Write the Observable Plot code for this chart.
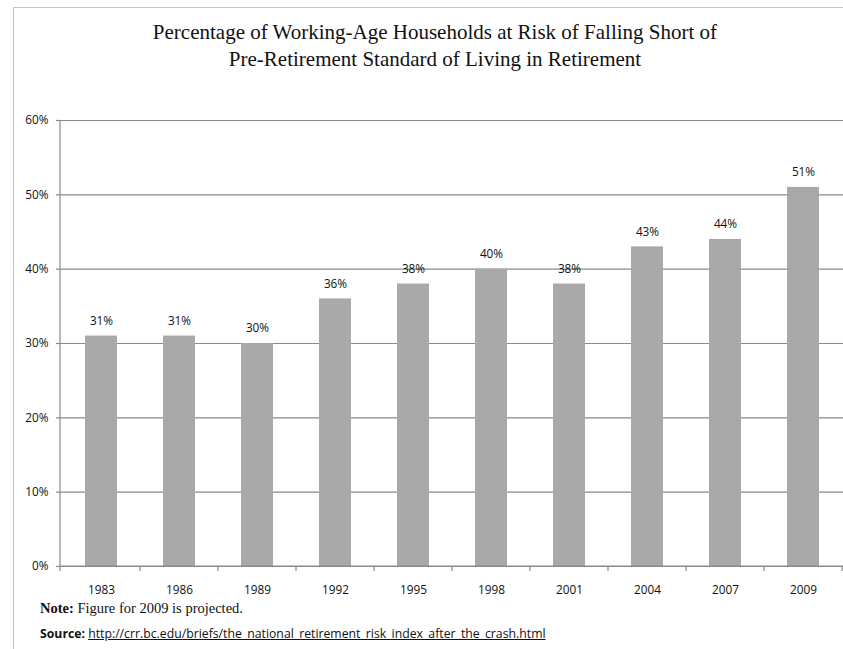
<!DOCTYPE html>
<html>
<head>
<meta charset="utf-8">
<script src="https://cdn.jsdelivr.net/npm/d3@7"></script>
<script src="https://cdn.jsdelivr.net/npm/@observablehq/plot@0.6"></script>
<style>
  html, body { margin: 0; padding: 0; background: #fff; overflow: hidden; }
  #wrap { position: relative; width: 843px; height: 649px; overflow: hidden; }
  #frame { position: absolute; left: 13px; top: 7px; width: 900px; height: 700px;
           border-left: 1.5px solid #c4c4c4; border-top: 1.5px solid #c4c4c4; }
  #title { position: absolute; left: 0; top: 19px; width: 870px; text-align: center;
           font-family: "Liberation Serif", "Times New Roman", serif; font-size: 21px;
           line-height: 27px; color: #111; }
  #chart { position: absolute; left: 0; top: 100px; }
  #note { position: absolute; left: 40px; top: 600px; font-family: "Liberation Serif", serif;
          font-size: 14.5px; color: #111; white-space: nowrap; }
  #source { position: absolute; left: 40px; top: 625px; font-family: "Open Sans", sans-serif;
            font-size: 12.25px; color: #111; white-space: nowrap; }
  #source a { color: #111; text-decoration: underline; }
</style>
</head>
<body>
<div id="wrap">
  <div id="frame"></div>
  <div id="title">Percentage of Working-Age Households at Risk of Falling Short of<br>Pre-Retirement Standard of Living in Retirement</div>
  <div id="chart"></div>
  <div id="note"><b>Note:</b> Figure for 2009 is projected.</div>
  <div id="source"><b>Source:</b> <a>http://crr.bc.edu/briefs/the_national_retirement_risk_index_after_the_crash.html</a></div>
</div>
<script>
const years = ["1983", "1986", "1989", "1992", "1995", "1998", "2001", "2004", "2007", "2009"];
const values = [31, 31, 30, 36, 38, 40, 38, 43, 44, 51];
const yTicks = [0, 10, 20, 30, 40, 50, 60];

const data = years.map((year, i) => ({year, value: values[i]}));
const axisColor = "#8a8a8a";

function axisLines(index, scales, vals, dims) {
  const x = scales.x, y = scales.y;
  const bw = typeof x.bandwidth === "function" ? x.bandwidth() : x.bandwidth;
  const step = x(years[1]) - x(years[0]);
  const y0 = y(0), yTop = y(yTicks[yTicks.length - 1]);
  const left = dims.marginLeft, right = dims.width - dims.marginRight;
  const g = d3.create("svg:g").attr("stroke", axisColor).attr("stroke-width", 1.2);
  g.append("line").attr("x1", left).attr("x2", left).attr("y1", yTop).attr("y2", y0 + 5);
  g.append("line").attr("x1", left).attr("x2", right).attr("y1", y0).attr("y2", y0);
  const bounds = years.map(c => x(c) - (step - bw) / 2);
  bounds.push(bounds[bounds.length - 1] + step);
  for (const b of bounds.slice(1)) {
    g.append("line").attr("x1", b).attr("x2", b).attr("y1", y0).attr("y2", y0 + 5);
  }
  return g.node();
}

const chart = Plot.plot({
  width: 843,
  height: 490,
  marginLeft: 60,
  marginRight: 0,
  marginTop: 20,
  marginBottom: 24,
  style: {fontFamily: "'Open Sans', sans-serif", fontSize: "11.8px", color: "#111", background: "transparent", overflow: "visible"},
  x: {domain: years, paddingInner: 0.59, paddingOuter: 0.295, label: null},
  y: {domain: [0, 60], label: null},
  marks: [
    Plot.gridY(yTicks, {stroke: axisColor, strokeOpacity: 1, strokeWidth: 1.2}),
    Plot.barY(data, {x: "year", y: "value", fill: "#a9a9a9"}),
    Plot.axisY(yTicks, {tickSize: 4, tickPadding: 8, stroke: axisColor, strokeWidth: 1.2, fill: "#111", tickFormat: d => d + "%", label: null}),
    Plot.axisX({tickSize: 0, tickPadding: 19, fill: "#111", label: null}),
    Plot.text(data, {x: "year", y: "value", text: d => d.value + "%", dy: -15, fill: "#111"}),
    axisLines
  ]
});
document.getElementById("chart").appendChild(chart);
</script>
</body>
</html>
